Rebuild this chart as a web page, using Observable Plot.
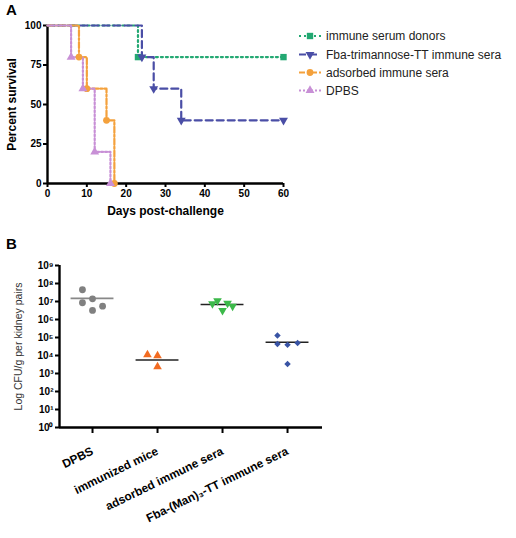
<!DOCTYPE html>
<html><head><meta charset="utf-8">
<script src="https://cdn.jsdelivr.net/npm/d3@7"></script>
<script src="https://cdn.jsdelivr.net/npm/@observablehq/plot@0.6"></script>
<style>
body{margin:0;background:#fff;}
#wrap{position:relative;width:516px;height:538px;font-family:"Liberation Sans",Arial,sans-serif;overflow:hidden;}
.abs{position:absolute;}
.panel{position:absolute;font-weight:bold;font-size:15px;color:#000;}
</style></head><body>
<div id="wrap">
  <div id="pa" class="abs" style="left:0;top:0"></div>
  <div id="pb" class="abs" style="left:0;top:250px"></div>
  <div id="leg" class="abs" style="left:0;top:0"></div>
  <div class="panel" style="left:6px;top:1px">A</div>
  <div class="panel" style="left:6px;top:235px">B</div>
</div>
<script>
// ---------- Panel A data (Kaplan-Meier steps) ----------
const seriesNames = ["immune serum donors", "Fba-trimannose-TT immune sera", "adsorbed immune sera", "DPBS"];
const donorsDays = [0, 23, 60];
const donorsSurv = [100, 80, 80];
const fbaDays = [0, 24, 27, 34, 60];
const fbaSurv = [100, 80, 60, 40, 40];
const adsorbedDays = [0, 8, 10, 15, 17];
const adsorbedSurv = [100, 80, 60, 40, 0];
const dpbsDays = [0, 6, 9, 12, 16];
const dpbsSurv = [100, 80, 60, 20, 0];
const daysTicks = [0, 10, 20, 30, 40, 50, 60];
const survTicks = [0, 25, 50, 75, 100];

// ---------- Panel B data (CFU/g per kidney pairs) ----------
const groups = ["DPBS", "immunized mice", "adsorbed immune sera", "Fba-(Man)\u2083-TT immune sera"];
const dpbsCFU = [4.5e7, 1.4e7, 8.5e6, 3.2e6, 5.5e6];
const immunizedCFU = [1.1e4, 9.8e3, 2.4e3];
const adsorbedCFU = [7.4e6, 1.1e7, 3.2e6, 8.0e6, 5.5e6];
const fbaManCFU = [1.3e5, 4.4e4, 3.9e4, 5.0e4, 3.4e3];
const groupMeans = [1.5e7, 5.6e3, 6.8e6, 5.4e4];
const cfuTicks = [1e0, 1e1, 1e2, 1e3, 1e4, 1e5, 1e6, 1e7, 1e8, 1e9];

// ---------- styles ----------
const FONT = '"Liberation Sans", Arial, sans-serif';
const styleA = [
  {stroke: "#23a872", dash: "2,3", symbol: "square", r: 3.6, rotate: 0},
  {stroke: "#4a4ea6", dash: "7,4", symbol: "triangle", r: 3.3, rotate: 180},
  {stroke: "#f4a13c", dash: "6,2,2,2", symbol: "circle", r: 3.4, rotate: 0},
  {stroke: "#c890d6", dash: "2,2", symbol: "triangle", r: 3.3, rotate: 0}
];
const survData = [[donorsDays, donorsSurv], [fbaDays, fbaSurv], [adsorbedDays, adsorbedSurv], [dpbsDays, dpbsSurv]]
  .map(([d, s], k) => d.map((day, i) => ({series: seriesNames[k], day, surv: s[i], i})));

const markA = [];
survData.forEach((rows, k) => {
  const st = styleA[k];
  markA.push(Plot.line(rows, {x: "day", y: "surv", curve: "step-after", stroke: st.stroke, strokeWidth: 2.2, strokeDasharray: st.dash}));
});
survData.forEach((rows, k) => {
  const st = styleA[k];
  markA.push(Plot.dot(rows.filter(d => d.i > 0), {x: "day", y: "surv", symbol: st.symbol, r: st.r, rotate: st.rotate, fill: st.stroke, stroke: "none"}));
});

const plotA = Plot.plot({
  width: 300, height: 235,
  marginLeft: 47, marginRight: 17, marginTop: 25, marginBottom: 52,
  x: {domain: [0, 60]},
  y: {domain: [0, 100]},
  style: {fontFamily: FONT, fontSize: "10px", color: "#000", background: "transparent", overflow: "visible"},
  marks: [
    Plot.axisX({ticks: daysTicks, tickSize: 4, tickPadding: 2, strokeWidth: 2, fontWeight: "bold", fontSize: 10, label: null}),
    Plot.axisY({ticks: survTicks, tickSize: 4, tickPadding: 2, strokeWidth: 2, fontWeight: "bold", fontSize: 10, label: null}),
    Plot.ruleY([0], {strokeWidth: 2.4, stroke: "#000"}),
    Plot.ruleX([0], {strokeWidth: 2.4, stroke: "#000"}),
    ...markA,
    Plot.text(["Percent survival"], {frameAnchor: "left", textAnchor: "middle", dx: -35, rotate: -90, fontWeight: "bold", fontSize: 12}),
    Plot.text(["Days post-challenge"], {frameAnchor: "bottom", textAnchor: "middle", dy: 31, fontWeight: "bold", fontSize: 12})
  ]
});
document.getElementById("pa").appendChild(plotA);

// ---------- legend for panel A ----------
const leg = d3.select("#leg").append("svg").attr("width", 516).attr("height", 110)
  .style("overflow", "visible").style("font-family", FONT);
const legY = [36, 54.5, 72.5, 90.5];
seriesNames.forEach((name, k) => {
  const st = styleA[k];
  const g = leg.append("g").attr("transform", `translate(0,${legY[k]})`);
  g.append("line").attr("x1", 299).attr("x2", 321).attr("y1", 0).attr("y2", 0)
    .attr("stroke", st.stroke).attr("stroke-width", 2.2).attr("stroke-dasharray", st.dash);
  const sym = st.symbol === "square" ? d3.symbolSquare : st.symbol === "circle" ? d3.symbolCircle : d3.symbolTriangle;
  g.append("path").attr("d", d3.symbol(sym, Math.PI * st.r * st.r)())
    .attr("transform", `translate(310,0) rotate(${st.rotate})`).attr("fill", st.stroke);
  g.append("text").attr("x", 326).attr("y", 0).attr("dy", "0.35em")
    .attr("font-size", 12).attr("fill", "#222").text(name);
});

// ---------- Panel B ----------
const colorsB = ["#808080", "#f26b21", "#3cb94a", "#3853a4"];
const symbolsB = ["circle", "triangle", "triangle", "diamond2"];
const rotB = [0, 0, 180, 0];
const rB = [3.4, 3.2, 3.2, 2.9];
// horizontal scatter slots (layout only)
const slots = [[-1, 0, -1, 0, 1], [-1, 0, 0], [-1, -0.5, 0, 0.5, 1], [-1, -1, 0, 1, 0]];
const SLOT = 0.155;
const cfuSets = [dpbsCFU, immunizedCFU, adsorbedCFU, fbaManCFU];
const pts = cfuSets.map((vals, g) => vals.map((v, i) => ({g, x: g + slots[g][i] * SLOT, v})));
const meanRows = groupMeans.map((m, g) => ({g, m, x1: g - 0.33, x2: g + 0.33}));
const sup = {"0": "\u2070", "1": "\u00b9", "2": "\u00b2", "3": "\u00b3", "4": "\u2074", "5": "\u2075", "6": "\u2076", "7": "\u2077", "8": "\u2078", "9": "\u2079"};
const fmtPow = v => "10" + String(Math.round(Math.log10(v))).split("").map(c => sup[c]).join("");

const markB = [];
meanRows.forEach(r => {
  markB.push(Plot.ruleY([r], {y: "m", x1: "x1", x2: "x2", stroke: r.g === 0 ? "#888" : "#222", strokeWidth: 1.6}));
});
pts.forEach((rows, g) => {
  markB.push(Plot.dot(rows, {x: "x", y: "v", symbol: symbolsB[g], r: rB[g], rotate: rotB[g], fill: colorsB[g], stroke: "none"}));
});

const plotB = Plot.plot({
  width: 330, height: 288,
  marginLeft: 59, marginRight: 8, marginTop: 15, marginBottom: 111,
  x: {domain: [-0.508, 3.538]},
  y: {type: "log", domain: [1, 1e9]},
  style: {fontFamily: FONT, fontSize: "10px", color: "#000", background: "transparent", overflow: "visible"},
  marks: [
    Plot.axisY({ticks: cfuTicks, tickFormat: fmtPow, tickSize: 4, tickPadding: 2, strokeWidth: 2, fontWeight: "bold", fontSize: 10, label: null}),
    Plot.axisX({ticks: [0, 1, 2, 3], tickFormat: i => groups[i], tickRotate: -26, tickSize: 6, tickPadding: 17, strokeWidth: 2, fontWeight: "bold", fontSize: 11.8, label: null}),
    Plot.ruleX([-0.508], {strokeWidth: 2.4, stroke: "#000"}),
    Plot.ruleY([1], {strokeWidth: 2.4, stroke: "#000"}),
    ...markB,
    Plot.text(["Log CFU/g per kidney pairs"], {frameAnchor: "left", textAnchor: "middle", dx: -41, rotate: -90, fontSize: 10.5, fill: "#333"})
  ]
});
document.getElementById("pb").appendChild(plotB);
</script>
</body></html>
